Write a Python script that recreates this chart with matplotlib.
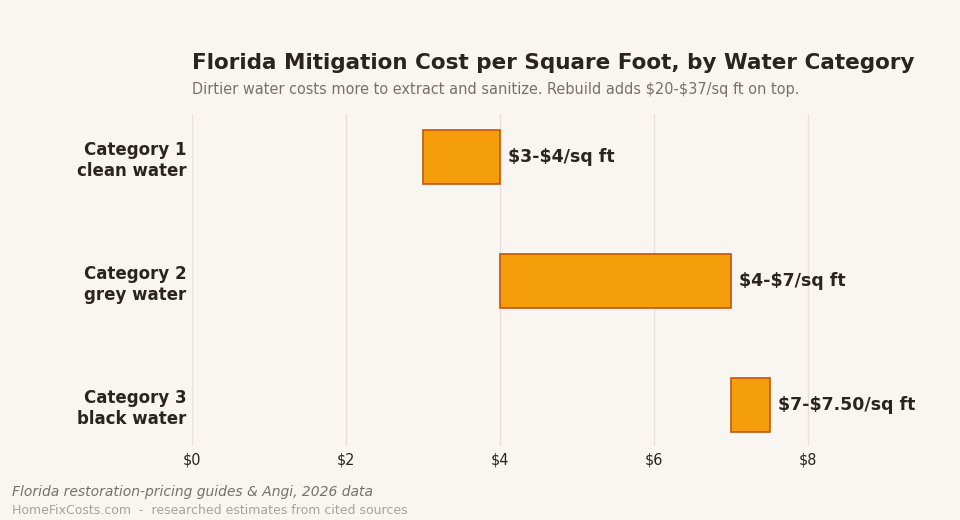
import matplotlib
matplotlib.use("Agg")
import matplotlib.pyplot as plt

plt.rcParams["text.parse_math"] = False

categories = ["Category 1\nclean water", "Category 2\ngrey water", "Category 3\nblack water"]
low = [3.0, 4.0, 7.0]
high = [4.0, 7.0, 7.5]
labels = ["$3-$4/sq ft", "$4-$7/sq ft", "$7-$7.50/sq ft"]
xticks = [0, 2, 4, 6, 8]
xticklabels = ["$0", "$2", "$4", "$6", "$8"]

BG = "#f9f6f1"
BAR = "#f59e0b"
EDGE = "#c2570c"
DARK = "#2a2420"
GRAY = "#77706a"

fig = plt.figure(figsize=(9.6, 5.2), dpi=100, facecolor=BG)
ax = fig.add_axes([0.2, 0.1423, 0.762, 0.6387], facecolor=BG)

ypos = list(range(len(categories)))
widths = [h - l for l, h in zip(low, high)]
ax.barh(ypos, widths, left=low, height=0.435, color=BAR, edgecolor=EDGE, linewidth=1.2, zorder=3)
for y, h, t in zip(ypos, high, labels):
    ax.text(h + 0.11, y, t, va="center", ha="left", fontsize=12.5, fontweight="bold", color=DARK, zorder=4)

ax.set_xlim(0, 9.5)
ax.set_ylim(2.33, -0.35)
ax.set_xticks(xticks)
ax.set_xticklabels(xticklabels, fontsize=11.5, color=DARK, fontstretch="condensed")
ax.set_yticks(ypos)
ax.set_yticklabels(categories, fontsize=12, fontweight="bold", color=DARK, linespacing=1.2)
ax.tick_params(axis="y", length=0, pad=4)
ax.tick_params(axis="x", length=0, pad=5)
ax.grid(axis="x", color="#e6e0d8", linewidth=1, zorder=0)
for s in ax.spines.values():
    s.set_visible(False)

fig.text(192/960, 1 - 63/520, "Florida Mitigation Cost per Square Foot, by Water Category",
         fontsize=15.5, fontweight="bold", color=DARK, ha="left", va="center")
fig.text(192/960, 1 - 89/520, "Dirtier water costs more to extract and sanitize. Rebuild adds $20-$37/sq ft on top.",
         fontsize=11.6, color=GRAY, ha="left", va="center", fontstretch="condensed")
fig.text(12/960, 1 - 492/520, "Florida restoration-pricing guides & Angi, 2026 data",
         fontsize=10, style="italic", color=GRAY, ha="left", va="center")
fig.text(12/960, 1 - 510/520, "HomeFixCosts.com  -  researched estimates from cited sources",
         fontsize=9, color="#a8a29c", ha="left", va="center")

fig.savefig("out.png", dpi=100, facecolor=BG)
